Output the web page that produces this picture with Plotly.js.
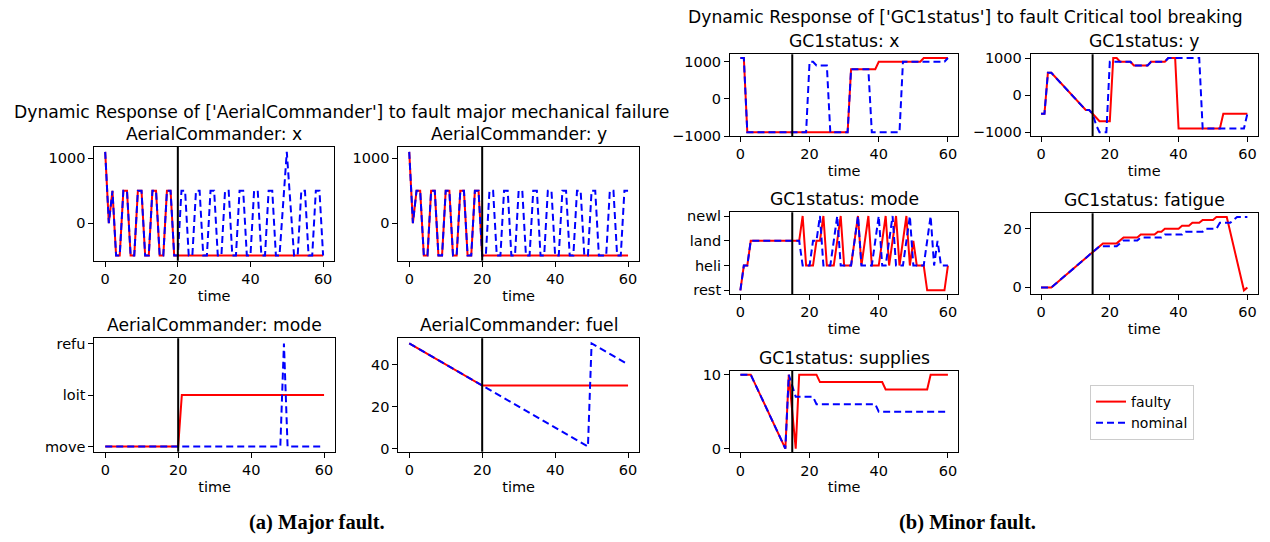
<!DOCTYPE html>
<html>
<head>
<meta charset="utf-8">
<script src="https://cdn.plot.ly/plotly-3.0.1.min.js"></script>
<style>
  html, body { margin: 0; padding: 0; background: #ffffff; }
  #chart { width: 1270px; height: 542px; }
</style>
</head>
<body>
<div id="chart"></div>
<script>
// ---------------- data ----------------
// shared time stamps 0..60
const steps = [0,1,2,3,4,5,6,7,8,9,10,11,12,13,14,15,16,17,18,19,20,21,22,23,24,25,26,27,28,29,30,31,32,33,34,35,36,37,38,39,40,41,42,43,44,45,46,47,48,49,50,51,52,53,54,55,56,57,58,59,60];
// faulty Aerial Commander runs freeze after the fault at t = 20
const acFaultySteps = [0,1,2,3,4,5,6,7,8,9,10,11,12,13,14,15,16,17,18,19,20,60];

const majorFaultTime = 20;
const minorFaultTime = 15;

// AerialCommander: x
const acXNominal = [1100,0,500,-500,-500,500,500,-500,-500,500,500,-500,-500,500,500,-500,-500,500,500,-500,-500,
  500,500,-500,-500,500,500,-500,-500,500,500,-500,-500,500,500,-500,-500,500,500,-500,-500,
  500,500,-500,-500,500,500,-500,-500,300,1100,300,-500,-500,500,500,-500,-500,500,500,-500];
const acXFaulty = [1100,0,500,-500,-500,500,500,-500,-500,500,500,-500,-500,500,500,-500,-500,500,500,-500,-500,-500];

// AerialCommander: y
const acYNominal = [1100,0,500,500,-500,-500,500,500,-500,-500,500,500,-500,-500,500,500,-500,-500,500,500,-500,
  -500,500,500,-500,-500,500,500,-500,-500,500,500,-500,-500,500,500,-500,-500,500,500,-500,
  -500,500,500,-500,-500,500,500,-500,-500,500,500,-500,-500,-500,500,500,-500,-500,500,500];
const acYFaulty = [1100,0,500,500,-500,-500,500,500,-500,-500,500,500,-500,-500,500,500,-500,-500,500,500,-500,-500];

// AerialCommander: mode
const acModeLevels = ['move','loit','refu'];
const acModeFaultyT = [0,20,21,60];
const acModeFaulty = ['move','move','loit','loit'];
const acModeNominalT = [0,48,49,50,60];
const acModeNominal = ['move','move','refu','move','move'];

// AerialCommander: fuel
const acFuelFaultyT = [0,20,60];
const acFuelFaulty = [50,30,30];
const acFuelNominalT = [0,49,50,60];
const acFuelNominal = [50,1,50,40];

// GC1status: x
const gcXFaultyT = [0,1,2,31,32,39,40,52,53,60];
const gcXFaulty = [1100,1100,-900,-900,800,800,1000,1000,1100,1100];
const gcXNominalT = [0,1,2,19,20,21,22,25,26,31,32,37,38,46,47,59,60];
const gcXNominal = [1100,1100,-900,-900,1000,1000,900,900,-900,-900,800,800,-900,-900,1000,1000,1100];

// GC1status: y
const gcYFaultyT = [0,1,2,3,13,14,15,17,20,21,22,23,26,27,31,32,36,37,39,40,52,53,60];
const gcYFaulty = [-500,-500,600,600,-400,-400,-500,-700,-700,1000,1000,900,900,800,800,900,900,1000,1000,-900,-900,-500,-500];
const gcYNominalT = [0,1,2,3,13,14,15,16,17,19,20,26,27,31,32,36,37,46,47,59,60];
const gcYNominal = [-500,-500,600,600,-400,-400,-500,-800,-1000,-1000,900,900,800,800,900,900,1000,1000,-900,-900,-500];

// GC1status: mode
const gcModeLevels = ['rest','heli','land','newl'];
const gcModeFaulty = ['rest','heli','heli','land','land','land','land','land','land','land','land','land','land','land','land','land','land','land',
  'newl','heli','heli','heli','land','land','newl','heli','heli','heli','land','newl','heli','heli','heli','land','newl','heli','land','newl',
  'heli','heli','heli','land','newl','heli','land','newl','heli','land','newl','heli','land','heli','heli','heli',
  'rest','rest','rest','rest','rest','rest','heli'];
const gcModeNominal = ['rest','heli','heli','land','land','land','land','land','land','land','land','land','land','land','land','land','land','land',
  'heli','heli','heli','land','land','newl','heli','heli','heli','land','newl','heli','heli','heli','heli','land','newl','heli','heli','heli',
  'heli','land','newl','heli','heli','land','newl','heli','heli','heli','land','newl','heli','heli','heli','heli','land','newl','heli','land',
  'heli','heli','heli'];

// GC1status: fatigue
const gcFatigueFaultyT = [0,3,18,22,24,28,29,33,34,35,36,40,41,43,44,46,47,50,51,54,59,60];
const gcFatigueFaulty = [0,0,15,15,17,17,18,18,19,19,20,20,21,21,22,22,23,23,24,24,-1,0];
const gcFatigueNominalT = [0,3,17,22,24,28,29,35,36,41,42,47,48,51,52,55,57,60];
const gcFatigueNominal = [0,0,14,14,16,16,17,17,18,18,19,19,20,20,22,22,24,24];

// GC1status: supplies
const gcSuppliesFaultyT = [0,3,13,14,16,17,22,23,41,42,54,55,60];
const gcSuppliesFaulty = [10,10,0,10,0,10,10,9,9,8,8,10,10];
const gcSuppliesNominalT = [0,3,13,14,16,21,22,39,40,60];
const gcSuppliesNominal = [10,10,0,10,7,7,6,6,5,5];

// ---------------- layout ----------------
const W = 1270, H = 542;
const FONT = 'DejaVu Sans, sans-serif';
const TICK = 14.5, TITLE = 17.2;
const RED = '#ff0000', BLUE = '#0000ff';

// plot boxes in pixels: [left, top, right, bottom]
const panels = [
  { title: 'AerialCommander: x', box: [94.3, 146.7, 334, 260.7], yr: [-580, 1180], ticks: [0, 1000], fault: majorFaultTime,
    faulty: [acFaultySteps, acXFaulty], nominal: [steps, acXNominal] },
  { title: 'AerialCommander: y', box: [398.3, 146.7, 639, 260.7], yr: [-580, 1180], ticks: [0, 1000], fault: majorFaultTime,
    faulty: [acFaultySteps, acYFaulty], nominal: [steps, acYNominal] },
  { title: 'AerialCommander: mode', box: [94.3, 338.3, 335, 451.7], yr: [-0.1, 2.1], cats: acModeLevels, fault: majorFaultTime,
    faulty: [acModeFaultyT, acModeFaulty], nominal: [acModeNominalT, acModeNominal] },
  { title: 'AerialCommander: fuel', box: [398.3, 338.3, 639, 451.7], yr: [-1.45, 52.45], ticks: [0, 20, 40], fault: majorFaultTime,
    faulty: [acFuelFaultyT, acFuelFaulty], nominal: [acFuelNominalT, acFuelNominal] },
  { title: 'GC1status: x', box: [730, 54.3, 958.3, 136], yr: [-1000, 1200], ticks: [-1000, 0, 1000], fault: minorFaultTime,
    faulty: [gcXFaultyT, gcXFaulty], nominal: [gcXNominalT, gcXNominal] },
  { title: 'GC1status: y', box: [1030.7, 54.3, 1257.7, 136], yr: [-1100, 1100], ticks: [-1000, 0, 1000], fault: minorFaultTime,
    faulty: [gcYFaultyT, gcYFaulty], nominal: [gcYNominalT, gcYNominal] },
  { title: 'GC1status: mode', box: [730, 212.3, 958.3, 294], yr: [-0.15, 3.15], cats: gcModeLevels, fault: minorFaultTime,
    faulty: [steps, gcModeFaulty], nominal: [steps, gcModeNominal] },
  { title: 'GC1status: fatigue', box: [1030.7, 213.3, 1257.7, 294], yr: [-2.25, 25.25], ticks: [0, 20], fault: minorFaultTime,
    faulty: [gcFatigueFaultyT, gcFatigueFaulty], nominal: [gcFatigueNominalT, gcFatigueNominal] },
  { title: 'GC1status: supplies', box: [730, 371, 958.3, 452.3], yr: [-0.5, 10.5], ticks: [0, 10], fault: minorFaultTime,
    faulty: [gcSuppliesFaultyT, gcSuppliesFaulty], nominal: [gcSuppliesNominalT, gcSuppliesNominal] }
];

const traces = [];
const layout = {
  width: W, height: H,
  margin: { l: 0, r: 0, t: 0, b: 0 },
  paper_bgcolor: '#ffffff', plot_bgcolor: '#ffffff',
  font: { family: FONT, size: TICK, color: '#000000' },
  showlegend: true,
  legend: {
    x: 1090 / W, y: 1 - 385 / H, xanchor: 'left', yanchor: 'top',
    bordercolor: '#cccccc', borderwidth: 1, bgcolor: '#ffffff',
    font: { family: FONT, size: 14, color: '#000000' },
    tracegroupgap: 0, itemwidth: 30
  },
  shapes: [],
  annotations: []
};

const axisCommon = {
  showline: true, mirror: true, linecolor: '#000000', linewidth: 1,
  ticks: 'outside', ticklen: 5, tickwidth: 1, tickcolor: '#000000',
  showgrid: false, zeroline: false, automargin: false,
  tickfont: { family: FONT, size: TICK, color: '#000000' }
};

panels.forEach((p, i) => {
  const n = i + 1;
  const xa = 'xaxis' + (n === 1 ? '' : n), ya = 'yaxis' + (n === 1 ? '' : n);
  const xr = 'x' + (n === 1 ? '' : n), yr = 'y' + (n === 1 ? '' : n);
  const [l, t, r, b] = p.box;

  layout[xa] = Object.assign({}, axisCommon, {
    domain: [l / W, r / W], anchor: yr, range: [-3, 63],
    tickmode: 'array', tickvals: [0, 20, 40, 60],
    title: { text: 'time', font: { family: FONT, size: TICK, color: '#000000' }, standoff: 4 }
  });
  const yAxis = Object.assign({}, axisCommon, {
    domain: [1 - b / H, 1 - t / H], anchor: xr, range: p.yr
  });
  if (p.cats) {
    yAxis.type = 'category';
    yAxis.categoryorder = 'array';
    yAxis.categoryarray = p.cats;
  } else {
    yAxis.tickmode = 'array';
    yAxis.tickvals = p.ticks;
  }
  layout[ya] = yAxis;

  traces.push({
    x: p.faulty[0], y: p.faulty[1], xaxis: xr, yaxis: yr,
    type: 'scatter', mode: 'lines', name: 'faulty', legendgroup: 'faulty',
    showlegend: i === 0, line: { color: RED, width: 2 }
  });
  traces.push({
    x: p.nominal[0], y: p.nominal[1], xaxis: xr, yaxis: yr,
    type: 'scatter', mode: 'lines', name: 'nominal', legendgroup: 'nominal',
    showlegend: i === 0, line: { color: BLUE, width: 2, dash: '7px,4px' }
  });

  // fault injection time
  layout.shapes.push({
    type: 'line', xref: xr, yref: yr + ' domain', x0: p.fault, x1: p.fault, y0: 0, y1: 1,
    line: { color: '#000000', width: 2 }, layer: 'above'
  });

  // panel title
  layout.annotations.push({
    text: p.title, xref: 'paper', yref: 'paper',
    x: (l + r) / 2 / W, y: 1 - t / H, xanchor: 'center', yanchor: 'bottom', yshift: 1,
    showarrow: false, font: { family: FONT, size: TITLE, color: '#000000' }
  });
});

// figure headings and captions
layout.annotations.push(
  { text: "Dynamic Response of ['AerialCommander'] to fault major mechanical failure",
    xref: 'paper', yref: 'paper', x: 341 / W, y: 1 - 112 / H, xanchor: 'center', yanchor: 'middle',
    showarrow: false, font: { family: FONT, size: TITLE, color: '#000000' } },
  { text: "Dynamic Response of ['GC1status'] to fault Critical tool breaking",
    xref: 'paper', yref: 'paper', x: 965 / W, y: 1 - 17 / H, xanchor: 'center', yanchor: 'middle',
    showarrow: false, font: { family: FONT, size: TITLE, color: '#000000' } },
  { text: '<b>(a) Major fault.</b>',
    xref: 'paper', yref: 'paper', x: 317 / W, y: 1 - 522 / H, xanchor: 'center', yanchor: 'middle',
    showarrow: false, font: { family: 'Liberation Serif, serif', size: 20.5, color: '#000000' } },
  { text: '<b>(b) Minor fault.</b>',
    xref: 'paper', yref: 'paper', x: 967 / W, y: 1 - 522 / H, xanchor: 'center', yanchor: 'middle',
    showarrow: false, font: { family: 'Liberation Serif, serif', size: 20.5, color: '#000000' } }
);

Plotly.newPlot('chart', traces, layout, { displayModeBar: false, staticPlot: true });
</script>
</body>
</html>
